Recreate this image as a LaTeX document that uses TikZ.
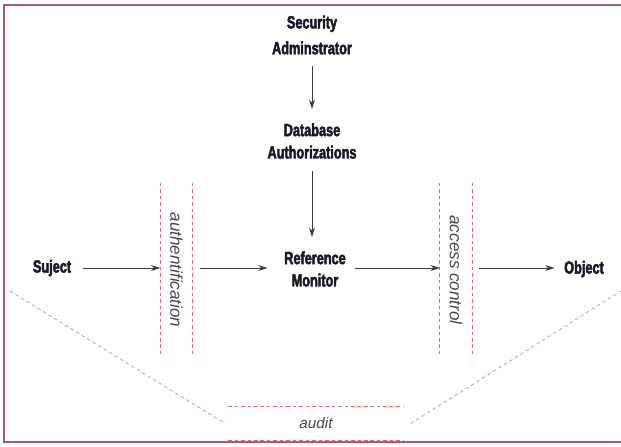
\documentclass[tikz,border=0pt]{standalone}
\usepackage{fontspec}
\usepackage{graphicx}
\setsansfont{Liberation Sans}
\newfontfamily\blockfont[FakeStretch=0.72,FakeBold=2.6]{Liberation Sans Bold}
\usetikzlibrary{arrows.meta,positioning,calc}

\definecolor{framered}{RGB}{172,92,108}
\definecolor{gatered}{RGB}{232,100,115}
\definecolor{inkdark}{RGB}{28,22,40}
\definecolor{tracegray}{RGB}{160,160,165}

\begin{document}
\begin{tikzpicture}[x=0.85pt,y=-0.85pt]
\tikzset{
	block/.style={font=\blockfont\fontsize{15}{19}\selectfont, text=inkdark, align=center, inner sep=4pt},
	gate/.style={minimum width=27pt, minimum height=148pt, inner sep=0pt, font=\sffamily\itshape\fontsize{14.5}{17}\selectfont, text=inkdark!80},
	gateline/.style={gatered, dash pattern=on 3pt off 2.5pt, line width=0.7pt},
	flow/.style={inkdark!85, line width=0.8pt, -{Stealth[length=8pt,width=5pt]}},
	tracer/.style={tracegray, dash pattern=on 3pt off 2.5pt, line width=0.6pt}
}

\useasboundingbox (0,0) rectangle (621,446);

% frame
\draw[framered, line width=1.8pt] (4,5) rectangle (640,442);

% blocks
\node[block] (admin) at (312,35) {Security\\[3pt]Adminstrator};
\node[block] (authz) at (312,141) {Database\\Authorizations};
\node[block] (monitor) at (315,269) {Reference\\Monitor};
\node[block] (subject) at (52,268) {Suject};
\node[block] (object) at (584,269) {Object};

% gates
\node[gate] (authgate) at (176.5,270) {\rotatebox{-90}{authentification}};
\node[gate] (accgate) at (456,270) {\rotatebox{-90}{access control}};
\node[font=\sffamily\itshape\fontsize{13}{15}\selectfont, text=inkdark!80, minimum width=149pt, minimum height=28pt, inner sep=0pt] (audit) at (316,423.5) {audit};

\foreach \g in {authgate,accgate}{
	\draw[gateline] (\g.north west) -- (\g.south west);
	\draw[gateline] (\g.north east) -- (\g.south east);
}
\draw[gateline] (audit.north west) -- (audit.north east);
\draw[gateline] (audit.south west) -- (audit.south east);

% links
\draw[flow, shorten <=6pt, shorten >=8pt] (admin) -- (authz);
\draw[flow, shorten <=6pt, shorten >=8pt] (authz.south) -- (authz.south |- monitor.north);
\draw[flow, shorten <=6pt] (subject.east) -- (authgate.west |- subject.east);
\draw[flow, shorten <=6pt, shorten >=10pt] (authgate.east |- subject.east) -- (monitor.west |- subject.east);
\draw[flow, shorten <=4pt] (monitor.east |- subject.east) -- (accgate.west |- subject.east);
\draw[flow, shorten <=6pt, shorten >=4pt] (accgate.east |- subject.east) -- (object.west |- subject.east);

% audit trails
\coordinate (trailL) at (10,291);
\coordinate (trailR) at (621,291);
\draw[tracer] (trailL) -- ($(audit.west)+(-3,0)$);
\draw[tracer] ($(audit.east)+(7,0)$) -- (trailR);
\end{tikzpicture}
\end{document}
